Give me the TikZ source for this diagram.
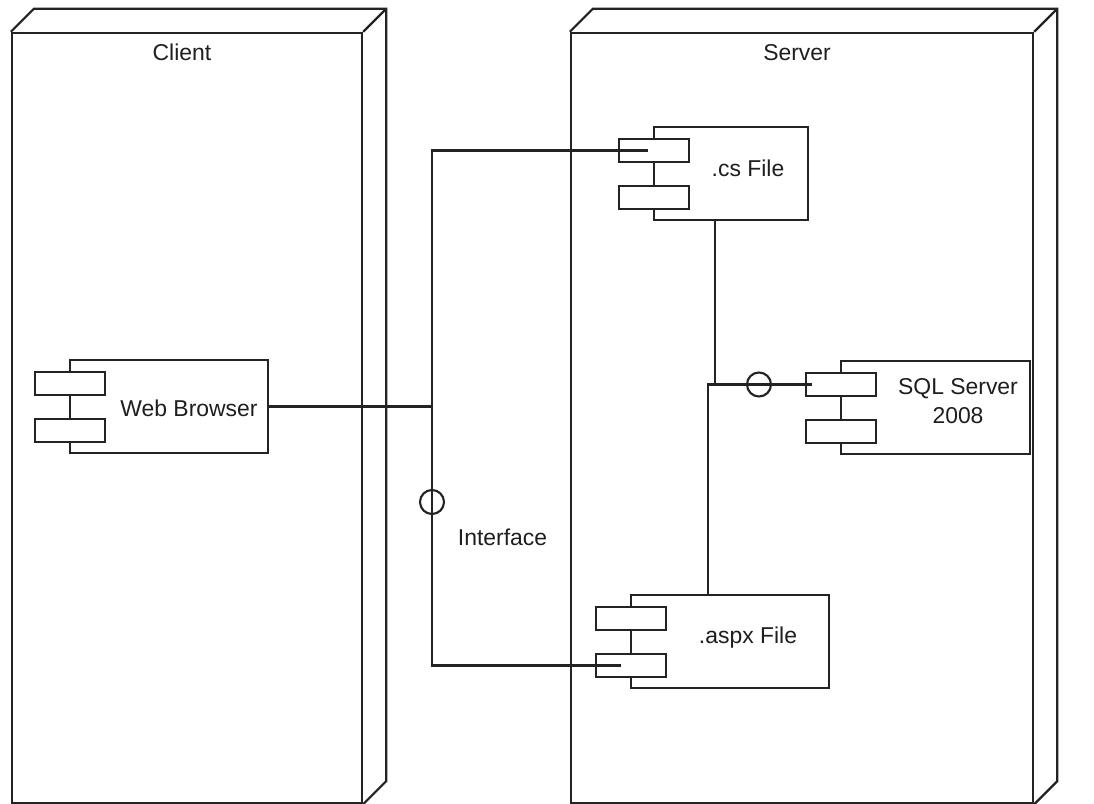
\documentclass[tikz,border=0pt]{standalone}
\usepackage{fontspec}
\setmainfont{Liberation Sans}
\usetikzlibrary{positioning,calc}
\definecolor{umlline}{RGB}{35,35,35}
\definecolor{umltext}{RGB}{30,30,30}
\tikzset{
  devbox/.style={draw=umlline, line width=1.6pt, fill=white, inner sep=0pt},
  devedge/.style={draw=umlline, line width=1.6pt, line join=miter},
  comp/.style={draw=umlline, line width=1.5pt, fill=white, inner sep=0pt,
               minimum height=2.325cm},
  port/.style={draw=umlline, line width=1.5pt, fill=white, inner sep=0pt,
               minimum width=1.75cm, minimum height=0.575cm},
  wire/.style={draw=umlline, line width=1.6pt},
  iface/.style={circle, draw=umlline, line width=1.5pt, inner sep=0pt, minimum size=0.6cm},
  lbl/.style={text=umltext, font=\fontsize{16.3}{20.5}\selectfont, inner sep=0pt},
}

\begin{document}
\begin{tikzpicture}[x=0.025cm,y=-0.025cm]
  \useasboundingbox (0,0) rectangle (1094,804);
  % execution environments
  \node[devbox, minimum width=8.75cm, minimum height=19.25cm] (client) at (187,418) {};
  \node[devbox, minimum width=11.55cm, minimum height=19.25cm] (server) at (802,418) {};
  \foreach \n in {client,server}{
    \draw[devedge] (\n.north west) -- ++(23,-23) -| ($(\n.south east)+(23,-23)$) -- (\n.south east);
    \draw[devedge] (\n.north east) -- ++(23,-23);
  }
  \node[lbl, anchor=base] (clientlbl) at ($(client.north)+(-5,29)$) {Client};
  \node[lbl, anchor=base] (serverlbl) at ($(server.north)+(-5,29)$) {Server};

  % components
  \node[comp, minimum width=4.95cm] (browser) at (169,406.5) {};
  \node[comp, minimum width=3.85cm] (cs) at (731,173.5) {};
  \node[comp, minimum width=4.725cm] (sql) at (935.5,407.5) {};
  \node[comp, minimum width=4.95cm] (aspx) at (730,641.5) {};
  \foreach \c in {browser,cs,sql,aspx}{
    \node[port, anchor=north west] (\c-top) at ($(\c.north west)+(-35,12)$) {};
    \node[port, anchor=south west] (\c-bot) at ($(\c.south west)+(-35,-11)$) {};
  }
  \node[lbl, anchor=base] (browsertxt) at (189,416.7) {Web Browser};
  \node[lbl, anchor=base] (cstxt) at (748,176.7) {.cs File};
  \node[lbl, align=center] (sqltxt) at (958,401) {SQL Server\\2008};
  \node[lbl, anchor=base] (aspxtxt) at (748,643) {.aspx File};

  % client side interface
  \node[iface] (ifc) at (432,502) {};
  \node[lbl, below right=0.44cm and 0.41cm of ifc] (ifclbl) {Interface};
  \coordinate (bus) at (browser.east -| ifc);
  \draw[wire] (browser.east) -- (bus);
  \draw[wire] ($(cs-top.west)+(30,0)$) -| (bus) |- ($(aspx-bot.west)+(26,0)$);

  % server side interface
  \node[iface] (ifc2) at (759,384.5) {};
  \draw[wire] ($(cs.south)+(-16,0)$) |- ($(sql-top.west)+(7,0)$);
  \draw[wire] ($(aspx.north)+(-22,0)$) |- ($(sql-top.west)+(7,0)$);
\end{tikzpicture}
\end{document}
